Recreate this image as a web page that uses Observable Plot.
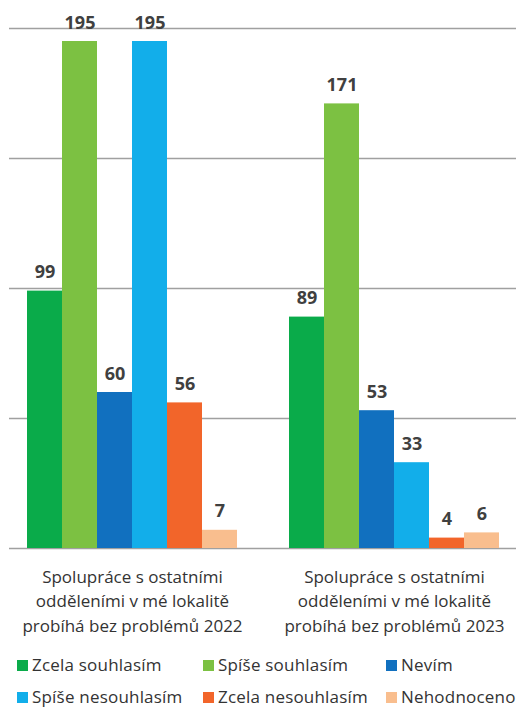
<!DOCTYPE html>
<html>
<head>
<meta charset="utf-8">
<script src="https://cdn.jsdelivr.net/npm/d3@7"></script>
<script src="https://cdn.jsdelivr.net/npm/@observablehq/plot@0.6"></script>
<style>
  html, body { margin: 0; padding: 0; background: #fff; }
  #wrap { width: 516px; overflow: hidden; font-family: "Open Sans", sans-serif; }
  #chart svg { max-width: none !important; display: block; }
  #legend { width: 516px; display: grid; grid-template-columns: 186px 183px auto; padding: 9px 0 0 17px; box-sizing: border-box; white-space: nowrap; color: #333; font-size: 17px; letter-spacing: 0.2px; overflow: hidden; }
  #legend .item { height: 32px; line-height: 32px; display: flex; align-items: center; }
  #legend .sw { width: 11px; height: 11px; margin-right: 4px; display: inline-block; flex: none; }
</style>
</head>
<body>
<div id="wrap"><div id="chart"></div><div id="legend"></div></div>
<script>
const groups = ["2022", "2023"];
const groupLabels = [
  "Spolupráce s ostatními\nodděleními v mé lokalitě\nprobíhá bez problémů 2022",
  "Spolupráce s ostatními\nodděleními v mé lokalitě\nprobíhá bez problémů 2023"
];
const series = ["Zcela souhlasím", "Spíše souhlasím", "Nevím", "Spíše nesouhlasím", "Zcela nesouhlasím", "Nehodnoceno"];
const values2022 = [99, 195, 60, 195, 56, 7];
const values2023 = [89, 171, 53, 33, 4, 6];
const colors = ["#0aab4a", "#7cc142", "#1170bf", "#12aeea", "#f2652a", "#f9be8e"];
const gridTicks = [0, 50, 100, 150, 200];

const valuesByGroup = [values2022, values2023];
const data = groups.flatMap((g, gi) => series.map((s, si) => ({group: g, series: s, value: valuesByGroup[gi][si]})));
const labelMap = new Map(groups.map((g, i) => [g, groupLabels[i]]));
const gridFirst = gridTicks.map(t => ({group: groups[0], tick: t}));
const gridRest = groups.slice(1).flatMap(g => gridTicks.map(t => ({group: g, tick: t})));

const chart = Plot.plot({
  width: 525,
  height: 640,
  marginTop: 28,
  marginBottom: 92,
  marginLeft: 0,
  marginRight: 0,
  style: {fontFamily: "'Open Sans', sans-serif", background: "#fff", maxWidth: "none"},
  fx: {domain: groups, padding: 0, label: null},
  x: {domain: series, paddingInner: 0, paddingOuter: 0.7, axis: null},
  y: {domain: [0, 200], axis: null},
  color: {domain: series, range: colors},
  marks: [
    Plot.ruleY(gridFirst, {fx: "group", y: "tick", stroke: "#a0a0a0", strokeWidth: 1.5, insetLeft: 8}),
    Plot.ruleY(gridRest, {fx: "group", y: "tick", stroke: "#a0a0a0", strokeWidth: 1.5}),
    Plot.barY(data, {fx: "group", x: "series", y: "value", fill: "series"}),
    Plot.text(data, {fx: "group", x: "series", y: "value", text: d => String(d.value), dy: -13, lineAnchor: "bottom", fontSize: 18, fontWeight: 700, fill: "#404040"}),
    Plot.axisFx({anchor: "bottom", tickSize: 0, tickPadding: 17, tickFormat: g => labelMap.get(g), fontSize: 17, lineHeight: 1.44, fill: "#333", label: null})
  ]
});
document.getElementById("chart").appendChild(chart);

const legend = document.getElementById("legend");
series.forEach((s, i) => {
  const item = document.createElement("div");
  item.className = "item";
  const sw = document.createElement("span");
  sw.className = "sw";
  sw.style.background = colors[i];
  item.appendChild(sw);
  item.appendChild(document.createTextNode(s));
  legend.appendChild(item);
});
</script>
</body>
</html>
